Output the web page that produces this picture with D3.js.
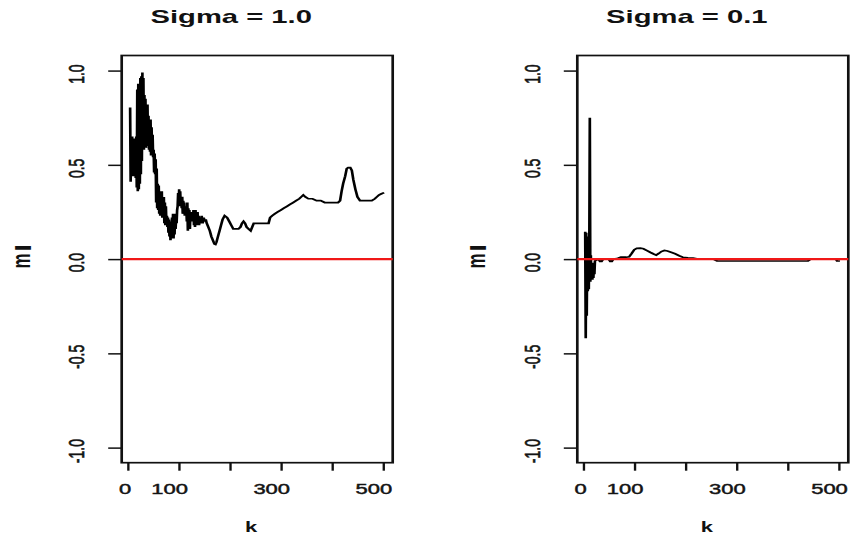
<!DOCTYPE html>
<html>
<head>
<meta charset="utf-8">
<script src="https://cdn.jsdelivr.net/npm/d3@7"></script>
<style>
  html, body { margin: 0; padding: 0; background: #ffffff; }
  svg { display: block; }
  text { font-family: "Liberation Sans", Arial, sans-serif; fill: #111; }
</style>
</head>
<body>
<svg id="chart" width="850" height="537"></svg>
<script>
// Running estimate m against k, two noise levels
const kSigma1 = [5,6,7,8,9,10,11,12,13,14,15,16,17,18,19,20,21,22,23,24,25,26,27,28,29,30,
  31,32,33,34,35,36,37,38,39,40,41,42,43,44,45,46,47,48,49,50,51,52,53,54,55,56,57,58,59,60,
  61,62,63,64,65,66,67,68,69,70,71,72,73,74,75,76,77,78,79,80,81,82,83,84,85,86,87,88,89,90,
  91,92,93,94,95,96,97,98,99,100,101,102,103,104,105,106,107,108,109,110,111,112,113,114,115,
  116,117,118,119,120,121,122,123,124,125,126,127,128,129,130,131,132,133,134,135,136,137,138,
  139,140,141,143,145,147,149,151,153,155,158,161,164,167,170,172,174,177,180,183,186,190,195,
  199,203,207,212,217,221,224,227,230,233,237,241,244,247,252,258,264,270,276,279,283,288,294,
  300,306,312,318,324,330,336,340,344,348,354,362,370,378,386,394,402,408,412,416,419,422,426,
  429,432,436,439,442,446,450,455,462,470,478,484,488,492,496,500];
const mSigma1 = [.80,.41,.62,.46,.65,.44,.60,.45,.64,.44,.60,.43,.65,.38,.90,.36,.93,.37,.92,.40,
  .96,.45,.97,.52,.99,.60,.96,.58,.87,.60,.85,.59,.80,.62,.82,.60,.76,.58,.74,.57,.74,.55,.70,.56,
  .66,.54,.58,.46,.56,.45,.53,.30,.48,.27,.40,.26,.39,.24,.36,.23,.34,.25,.36,.22,.32,.22,.33,.19,
  .30,.18,.28,.19,.23,.17,.22,.14,.21,.12,.20,.10,.19,.11,.22,.12,.24,.11,.20,.13,.24,.16,.22,.19,
  .26,.28,.35,.29,.37,.28,.36,.29,.33,.27,.33,.24,.31,.25,.30,.23,.28,.24,.27,.20,.30,.15,.27,.17,
  .26,.16,.24,.20,.25,.21,.24,.20,.26,.18,.25,.17,.26,.19,.24,.18,.25,.19,.23,.18,.22,.19,.23,.19,
  .22,.20,.21,.19,.17,.15,.12,.10,.08,.078,.09,.12,.15,.18,.21,.23,.22,.20,.18,.16,.16,.16,.17,.19,
  .20,.19,.17,.16,.15,.17,.19,.19,.19,.19,.19,.19,.22,.23,.24,.25,.26,.27,.28,.29,.30,.31,.32,.33,
  .34,.33,.32,.32,.31,.31,.30,.30,.30,.30,.30,.31,.36,.40,.44,.48,.485,.485,.47,.42,.37,.33,.31,.31,
  .31,.31,.32,.33,.34,.345,.35];

const kSigma01 = [4,5,6,7,8,9,10,11,12,13,14,15,16,17,18,19,20,21,22,23,26,30,33,36,39,50,53,56,59,
  68,74,84,90,95,100,105,112,118,125,132,138,143,148,153,159,165,172,180,188,195,205,215,225,255,
  262,440,445,495,497,500];
const mSigma01 = [.14,-.42,.14,-.30,.12,-.17,.10,-.16,.08,.75,-.12,.02,-.11,-.02,-.11,-.02,-.10,-.03,
  -.08,-.01,-.004,0,-.012,-.012,0,0,-.012,-.012,0,.004,.01,.01,.012,.03,.05,.057,.058,.055,.045,.035,
  .027,.021,.03,.04,.046,.043,.036,.028,.018,.01,.007,.005,0,0,-.01,-.01,0,0,-.01,-.01];

const panelTitles = ["Sigma = 1.0", "Sigma = 0.1"];
const xTickValues = [0, 100, 200, 300, 400, 500];
const xTickLabels = ["0", "100", "", "300", "", "500"];
const yTickValues = [-1, -0.5, 0, 0.5, 1];
const yTickLabels = ["-1.0", "-0.5", "0.0", "0.5", "1.0"];
const xAxisTitle = "k";
const yAxisTitle = "mı";
const referenceLevel = 0;

// Layout (pixels). Everything inside a panel is drawn in a horizontally
// stretched coordinate system so that glyphs and strokes widen together.
const SX = 1.57;
const boxTop = 55.5, boxBottom = 462.7, boxWidth = 271;
const panels = [
  { title: panelTitles[0], k: kSigma1, m: mSigma1, left: 121.7 },
  { title: panelTitles[1], k: kSigma01, m: mSigma01, left: 577.3 }
];

const svg = d3.select("#chart");

panels.forEach(p => {
  const g = svg.append("g").attr("transform", `scale(${SX},1)`);
  const x = d3.scaleLinear().domain([-11.5, 519]).range([p.left / SX, (p.left + boxWidth) / SX]);
  const y = d3.scaleLinear().domain([-1.08, 1.08]).range([boxBottom, boxTop]);

  const pts = p.k.map((k, i) => [k, p.m[i]]);
  const line = d3.line().x(d => x(d[0])).y(d => y(d[1]));

  g.append("path")
    .datum(pts)
    .attr("d", line)
    .attr("fill", "none")
    .attr("stroke", "#000")
    .attr("stroke-width", 1.7)
    .attr("stroke-linejoin", "miter")
    .attr("stroke-linecap", "square");

  // bottom axis
  const xAxis = d3.axisBottom(x).tickValues(xTickValues).tickSize(8).tickSizeOuter(0)
    .tickFormat((d, i) => xTickLabels[i]);
  const gx = g.append("g").attr("transform", `translate(0,${boxBottom})`).call(xAxis);
  gx.select(".domain").remove();
  gx.selectAll(".tick line").attr("stroke", "#111").attr("stroke-width", 1.5);
  gx.selectAll(".tick text")
    .attr("font-size", 14)
    .attr("y", 31.3).attr("dy", 0)
    .attr("fill", "#1a1a1a")
    .attr("stroke", "#1a1a1a").attr("stroke-width", 0.45)
    .each(function () {
      const len = this.getComputedTextLength();
      d3.select(this).attr("x", -0.27 * len);
    });

  // left axis with rotated labels
  const yAxis = d3.axisLeft(y).tickValues(yTickValues).tickSize(13.5 / SX).tickSizeOuter(0)
    .tickFormat((d, i) => yTickLabels[i]);
  const gy = g.append("g").attr("transform", `translate(${x.range()[0]},0)`).call(yAxis);
  gy.select(".domain").remove();
  gy.selectAll(".tick line").attr("stroke", "#111").attr("stroke-width", 1.5);
  gy.selectAll(".tick text")
    .attr("font-size", 14)
    .attr("fill", "#1a1a1a")
    .attr("stroke", "#1a1a1a").attr("stroke-width", 0.45)
    .attr("x", null).attr("dy", null)
    .attr("text-anchor", "middle")
    .attr("transform", `translate(${-37.5 / SX},3) rotate(-90)`);

  // plot frame
  g.append("rect")
    .attr("x", x.range()[0]).attr("y", boxTop)
    .attr("width", x.range()[1] - x.range()[0]).attr("height", boxBottom - boxTop)
    .attr("fill", "none").attr("stroke", "#111").attr("stroke-width", 1.7);

  // horizontal reference line
  g.append("line")
    .attr("x1", x.range()[0]).attr("x2", x.range()[1])
    .attr("y1", y(referenceLevel)).attr("y2", y(referenceLevel))
    .attr("stroke", "#f01818").attr("stroke-width", 2.2);

  const cx = (x.range()[0] + x.range()[1]) / 2;

  g.append("text")
    .attr("x", cx - 26 / SX).attr("y", 23.3)
    .attr("text-anchor", "middle")
    .attr("font-size", 18.6).attr("font-weight", "bold")
    .text(p.title);

  g.append("text")
    .attr("x", cx - 6 / SX).attr("y", 531.7)
    .attr("text-anchor", "middle")
    .attr("font-size", 14).attr("font-weight", "bold")
    .text(xAxisTitle);

  const yl = g.append("text")
    .attr("text-anchor", "middle")
    .attr("font-size", 17).attr("font-weight", "bold")
    .attr("transform", `translate(${x.range()[0] - 92 / SX},257) rotate(-90)`);
  yl.append("tspan").text(yAxisTitle[0]);
  yl.append("tspan").attr("dx", 3).attr("stroke", "#111").attr("stroke-width", 1.2)
    .text(yAxisTitle.slice(1));
});
</script>
</body>
</html>
